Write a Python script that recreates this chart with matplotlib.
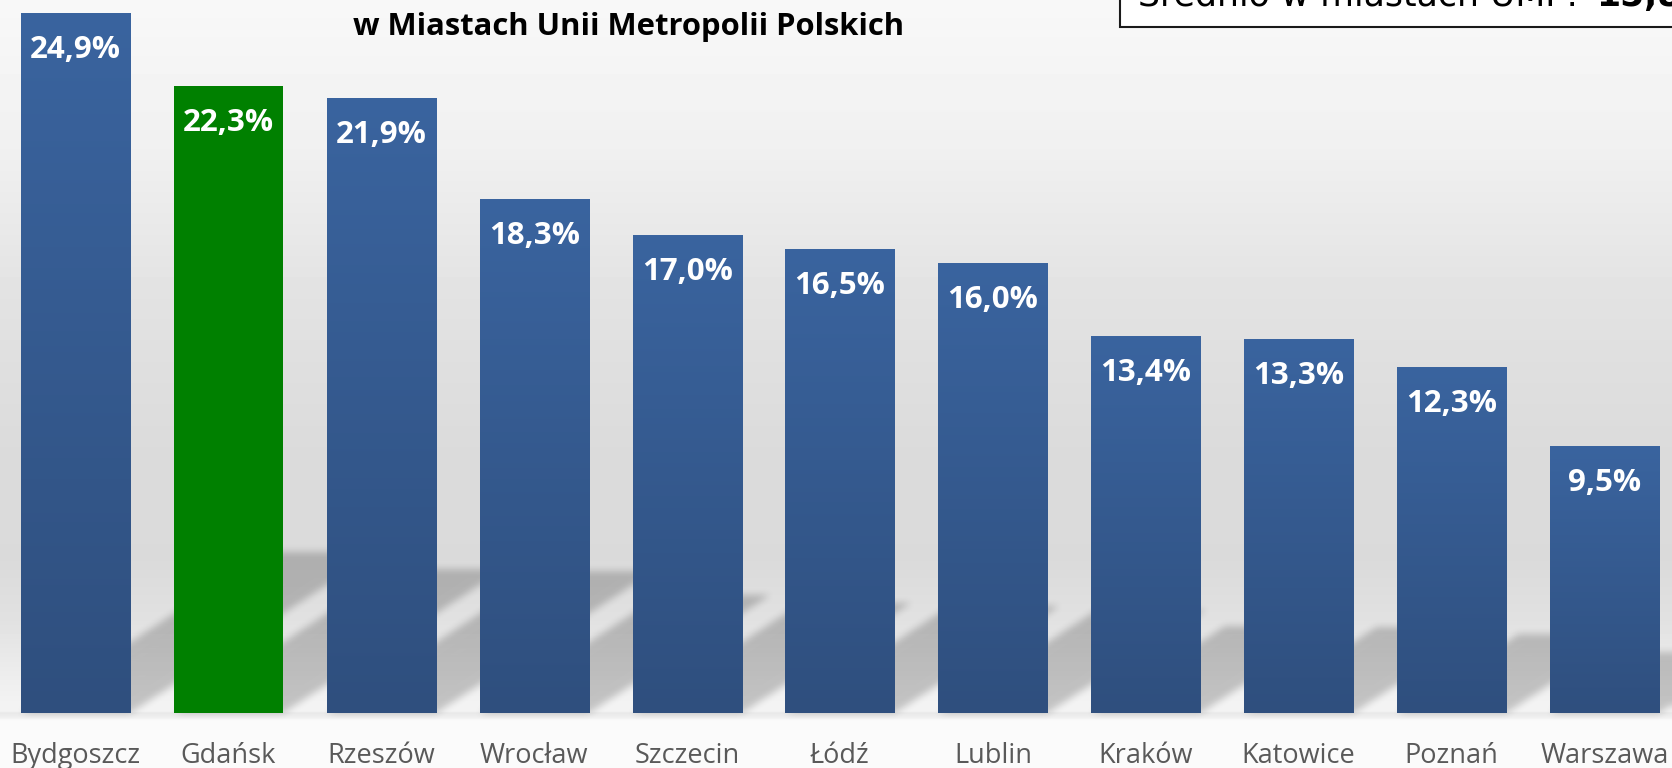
import numpy as np
import matplotlib
matplotlib.use('Agg')
import matplotlib.pyplot as plt
from matplotlib.colors import LinearSegmentedColormap
from matplotlib.patches import Rectangle

# --- dane ---
cities = ['Bydgoszcz', 'Gdańsk', 'Rzeszów', 'Wrocław', 'Szczecin', 'Łódź',
          'Lublin', 'Kraków', 'Katowice', 'Poznań', 'Warszawa']
values = [24.9, 22.3, 21.9, 18.3, 17.0, 16.5, 16.0, 13.4, 13.3, 12.3, 9.5]
highlight = 'Gdańsk'
title_line = 'w Miastach Unii Metropolii Polskich'
avg_text = 'Średnio w miastach UMP: '
avg_value = '15,8%'

W, H = 1672, 768
PITCH = 152.9        # px między słupkami
X0 = 75.5            # środek pierwszego słupka (px)
BASE = 713.0         # linia zera (px od góry)
PX_PER_UNIT = 28.1   # px na 1 punkt procentowy
BAR_W = 0.713

BLUE_TOP = '#3a649f'
BLUE_BOT = '#2f4f7e'
GREEN = '#008000'

fig = plt.figure(figsize=(W / 100, H / 100), dpi=100)
ax = fig.add_axes([0, 0, 1, 1])
ax.axis('off')

xmin = -X0 / PITCH
xmax = xmin + W / PITCH
ymax = BASE / PX_PER_UNIT
ymin = ymax - H / PX_PER_UNIT
ax.set_xlim(xmin, xmax)
ax.set_ylim(ymin, ymax)

# tło - gradient
rows = np.arange(H) + 0.5
stops_y = [0, 150, 300, 450, 560, 620, 680, 711, 713, 717, 720, 768]
stops_v = [248, 240, 226, 219, 218, 225, 238, 244, 232, 238, 250, 251]
gray = np.interp(rows, stops_y, stops_v) / 255.0
bg = np.repeat(gray[:, None], W, axis=1)
ax.imshow(bg, cmap='gray', vmin=0, vmax=1, extent=(xmin, xmax, ymin, ymax),
          origin='upper', aspect='auto', interpolation='none', zorder=0)

# cienie słupków (perspektywa w prawo do góry)
x = np.arange(len(cities))
cols = np.arange(W) + 0.5
XX, YY = np.meshgrid(cols, rows)
mask = np.zeros((H, W))
m_frac, slope = 0.23, 0.65
for xi, v in zip(x, values):
    (l_px, _), = ax.transData.transform([(xi - BAR_W / 2, 0)])
    (r_px, _), = ax.transData.transform([(xi + BAR_W / 2, 0)])
    h_px = v * PX_PER_UNIT
    t = BASE - YY
    shift = t / slope
    cond = (t >= 0) & (t <= m_frac * h_px) & (XX >= l_px + shift) & (XX <= r_px + shift)
    mask[cond] = 1.0


def box_blur(a, r, axis):
    c = np.cumsum(np.pad(a, [(r + 1, r) if i == axis else (0, 0) for i in range(2)],
                         mode='edge'), axis=axis)
    n = a.shape[axis]
    hi = np.take(c, np.arange(2 * r + 1, 2 * r + 1 + n), axis=axis)
    lo = np.take(c, np.arange(0, n), axis=axis)
    return (hi - lo) / (2 * r + 1)


for _ in range(3):
    mask = box_blur(mask, 3, 0)
    mask = box_blur(mask, 3, 1)

shadow = np.zeros((H, W, 4))
shadow[..., 3] = 0.2 * mask
ax.imshow(shadow, extent=(xmin, xmax, ymin, ymax), origin='upper',
          aspect='auto', interpolation='none', zorder=1)

# słupki
colors = [GREEN if c == highlight else BLUE_BOT for c in cities]
bars = ax.bar(x, values, width=BAR_W, color=colors, linewidth=0, zorder=2)

cmap = LinearSegmentedColormap.from_list('bar', [BLUE_BOT, BLUE_TOP])
grad = np.linspace(1, 0, 256)[:, None]
for b, c in zip(bars, cities):
    if c == highlight:
        continue
    im = ax.imshow(grad, cmap=cmap, vmin=0, vmax=1, aspect='auto',
                   extent=(b.get_x(), b.get_x() + b.get_width(), 0, b.get_height()),
                   origin='upper', zorder=3)
    im.set_clip_path(b)

# etykiety wartości
for xi, v in zip(x, values):
    ax.text(xi, v - 37 / PX_PER_UNIT, f'{v:.1f}%'.replace('.', ','),
            ha='center', va='center', color='white', fontsize=22.5,
            fontweight='bold', family='Open Sans', zorder=5)

# nazwy miast
label_y = ymax - 763 / PX_PER_UNIT
for xi, c in zip(x, cities):
    ax.text(xi, label_y, c, ha='center', va='baseline', color='#595959',
            fontsize=19.5, family='Open Sans', zorder=5)

# tytuł (druga linia)
fig.text(629 / W, 1 - 35 / H, title_line, ha='center', va='baseline',
         fontsize=22.3, fontweight='bold', family='Open Sans', color='black')

# ramka ze średnią
fig.add_artist(Rectangle((1120 / W, 1 - 27 / H), 0.5, 0.2, transform=fig.transFigure,
                         facecolor='white', edgecolor='#1a1a1a', linewidth=1.5,
                         zorder=6))
fig.text(1138 / W, 1 - 6 / H, avg_text, ha='left', va='baseline', fontsize=25,
         family='DejaVu Sans', color='black', zorder=7)
fig.text(1596 / W, 1 - 6 / H, avg_value, ha='left', va='baseline', fontsize=25,
         family='DejaVu Sans', fontweight='bold', color='black', zorder=7)

fig.savefig('out.png', dpi=100)
